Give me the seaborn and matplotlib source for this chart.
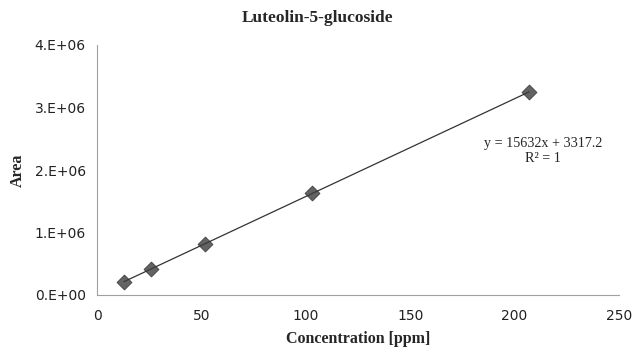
import matplotlib
matplotlib.use("Agg")
import matplotlib.pyplot as plt
import matplotlib.ticker as mticker
import seaborn as sns
import pandas as pd

conc = [12.9, 25.8, 51.6, 103.2, 207.0]
area = [208000, 418000, 812000, 1640000, 3245000]
title = "Luteolin-5-glucoside"
xlabel = "Concentration [ppm]"
ylabel = "Area"
eq_text = "y = 15632x + 3317.2"
r2_text = "R² = 1"

df = pd.DataFrame({"conc": conc, "area": area})

sns.set_style("white")
plt.rcParams['font.family'] = ['DejaVu Sans']

fig = plt.figure(figsize=(6.32, 3.52), dpi=100)
ax = fig.add_axes([97/632, 1-295/352, (619-97)/632, (295-45)/352])

sns.regplot(data=df, x="conc", y="area", ax=ax, ci=None, marker="D",
            scatter_kws=dict(s=58, color="#3c3c3c", edgecolor="#2a2a2a", linewidths=0.6, zorder=3),
            line_kws=dict(color="#333333", lw=0.9, zorder=2))

ax.set_xlim(0, 250)
ax.set_ylim(0, 4e6)
ax.set_xticks([0, 50, 100, 150, 200, 250])
ax.set_yticks([0, 1e6, 2e6, 3e6, 4e6])
ax.yaxis.set_major_formatter(mticker.FuncFormatter(lambda v, p: f"{v/1e6:.0f}.E+{6 if v else 0:02d}"))

for s in ["top", "right"]:
    ax.spines[s].set_visible(False)
for s in ["left", "bottom"]:
    ax.spines[s].set_color("#a0a0a0")
    ax.spines[s].set_linewidth(0.8)
ax.tick_params(axis="both", direction="out", length=4, width=0.8, color="#a0a0a0",
               labelsize=10, labelcolor="#222222", pad=6)
ax.tick_params(axis="y", pad=4)

ax.set_xlabel(xlabel, family="Liberation Serif", fontweight="bold", fontsize=11.5, labelpad=6)
ax.set_ylabel(ylabel, family="Liberation Serif", fontweight="bold", fontsize=11.5, labelpad=6)
fig.text(318/632, 1-18/352, title, ha="center", va="center",
         family="Liberation Serif", fontweight="bold", fontsize=12.5)

fig.text(543/632, 1-143/352, eq_text, ha="center", va="center",
         family="Liberation Serif", fontsize=10.2)
fig.text(543/632, 1-158/352, r2_text, ha="center", va="center",
         family="Liberation Serif", fontsize=10.2)

fig.savefig("out.png", dpi=100)
